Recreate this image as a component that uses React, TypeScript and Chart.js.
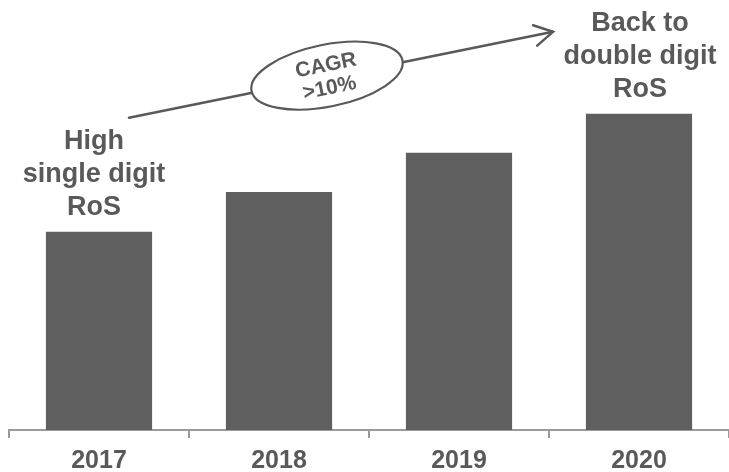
import React, { useEffect, useRef } from "react";
import { Chart, registerables } from "chart.js";

Chart.register(...registerables);

const categories = ["2017", "2018", "2019", "2020"];
const rosIndex = [62.7, 75.3, 87.7, 100];
const leftNote = ["High", "single digit", "RoS"];
const rightNote = ["Back to", "double digit", "RoS"];
const cagrNote = ["CAGR", ">10%"];

const TEXT = "#595959";
const BAR = "#5f5f5f";
const AXIS = "#9a9a9a";
const FONT = "Arial, 'Liberation Sans', sans-serif";

const notesPlugin = {
  id: "notes",
  afterDraw(chart: any) {
    const ctx = chart.ctx as CanvasRenderingContext2D;
    const bars = chart.getDatasetMeta(0).data;
    const b0 = bars[0];
    const b3 = bars[bars.length - 1];
    ctx.save();
    ctx.fillStyle = TEXT;
    ctx.strokeStyle = TEXT;
    ctx.textAlign = "center";
    ctx.textBaseline = "alphabetic";
    ctx.font = `bold 27px ${FONT}`;
    const lh = 33;
    const drawNote = (lines: string[], cx: number, lastBase: number) => {
      lines.forEach((t, i) => {
        ctx.fillText(t, cx, lastBase - (lines.length - 1 - i) * lh);
      });
    };
    drawNote(leftNote, b0.x - 5, b0.y - 17);
    drawNote(rightNote, b3.x + 1, b3.y - 17);

    // arrow
    const sx = b0.x + 30, sy = b0.y - 114;
    const ex = b3.x - 86, ey = b3.y - 82;
    const ang = Math.atan2(ey - sy, ex - sx);
    ctx.lineWidth = 2.5;
    ctx.lineCap = "round";
    ctx.beginPath();
    ctx.moveTo(sx, sy);
    ctx.lineTo(ex, ey);
    ctx.stroke();
    const ah = 21, spread = 0.52;
    ctx.beginPath();
    ctx.moveTo(ex - ah * Math.cos(ang - spread), ey - ah * Math.sin(ang - spread));
    ctx.lineTo(ex, ey);
    ctx.lineTo(ex - ah * Math.cos(ang + spread), ey - ah * Math.sin(ang + spread));
    ctx.stroke();

    // ellipse
    const t = 0.467;
    const cx = sx + (ex - sx) * t;
    const cy = sy + (ey - sy) * t - 2;
    ctx.beginPath();
    ctx.ellipse(cx, cy, 77, 31, ang, 0, Math.PI * 2);
    ctx.fillStyle = "#ffffff";
    ctx.fill();
    ctx.lineWidth = 2.2;
    ctx.stroke();

    ctx.translate(cx, cy);
    ctx.rotate(ang);
    ctx.fillStyle = TEXT;
    ctx.font = `bold 21px ${FONT}`;
    ctx.textBaseline = "middle";
    ctx.fillText(cagrNote[0], 1, -10);
    ctx.fillText(cagrNote[1], 0, 13);
    ctx.restore();
  },
};

export default function App() {
  const ref = useRef<HTMLCanvasElement | null>(null);
  useEffect(() => {
    if (!ref.current) return;
    const chart = new Chart(ref.current, {
      type: "bar",
      data: {
        labels: categories,
        datasets: [
          {
            data: rosIndex,
            backgroundColor: BAR,
            borderWidth: 0,
            barPercentage: 0.59,
            categoryPercentage: 1,
          },
        ],
      },
      options: {
        responsive: false,
        animation: false,
        layout: { padding: { left: 9, right: 0, top: 0, bottom: 0 } },
        plugins: { legend: { display: false }, tooltip: { enabled: false } },
        scales: {
          x: {
            afterFit: (scale: any) => {
              scale.height = 42;
            },
            grid: {
              display: true,
              drawOnChartArea: false,
              drawTicks: true,
              tickLength: 8,
              color: (c: any) => (c.index >= categories.length ? "rgba(0,0,0,0)" : AXIS),
              lineWidth: 2,
            },
            border: { display: true, color: AXIS, width: 2 },
            ticks: {
              color: TEXT,
              padding: 8,
              font: { family: FONT, size: 25, weight: "bold" },
            },
          },
          y: { display: false, min: 0, max: 136 },
        },
      },
      plugins: [notesPlugin],
    });
    return () => chart.destroy();
  }, []);
  return (
    <div style={{ position: "absolute", left: 0, top: 0, width: 729, height: 472, background: "#fff" }}>
      <canvas ref={ref} width={729} height={472} />
    </div>
  );
}
